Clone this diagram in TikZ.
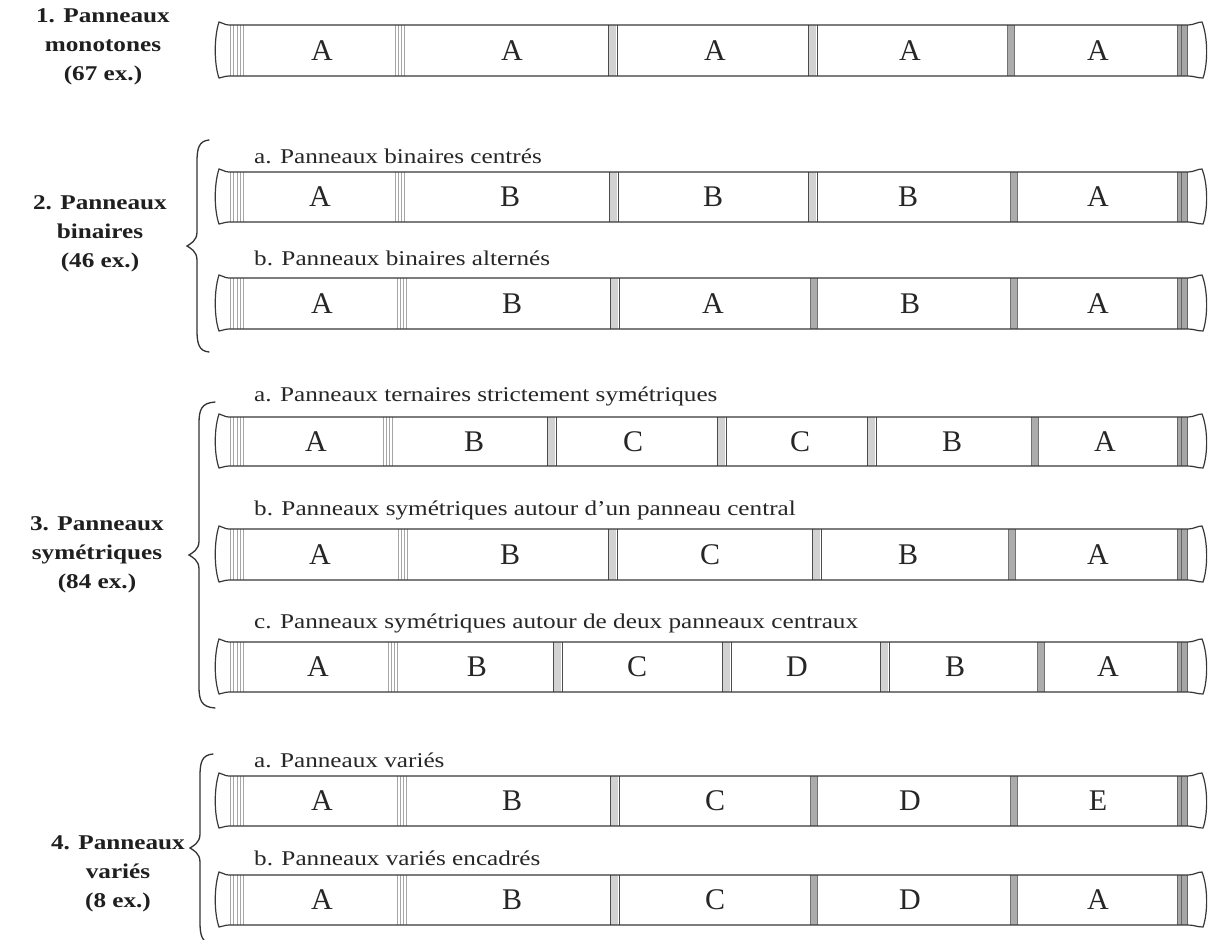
\documentclass[tikz,border=0pt]{standalone}
\usepackage{fontspec}
\setmainfont{Liberation Serif}
\newfontfamily\widefont[FakeStretch=1.2]{Liberation Serif}
\tikzset{
  tubefill/.style={fill=white},
  tubeline/.style={draw=black!78, line width=1.2pt},
  panel/.style={font=\fontsize{30}{30}\selectfont, text=black!85, inner sep=0pt},
  sublabel/.style={font=\widefont\fontsize{21}{24}\selectfont, text=black!85, anchor=west, inner sep=0pt},
  heading/.style={font=\widefont\bfseries\fontsize{21}{29}\selectfont, text=black!88, align=center, inner sep=0pt},
  bracel/.style={draw=black!80, line width=1.3pt, line cap=round},
  ring/.style={draw=gray!70, line width=0.8pt},
}
% outline path of a tube
\newcommand\tubepath[2]{(229,#1) -- (1188,#1) .. controls (1194,#1) and (1197,{#1-3}) .. (1202,{#1-3}) .. controls (1208,{#1+12}) and (1208,{#2-12}) .. (1203,{#2+2}) .. controls (1197,{#2+2}) and (1194,#2) .. (1188,#2) -- (229,#2) .. controls (224,#2) and (222,{#2+2}) .. (219,{#2+2}) .. controls (214,{#2-12}) and (214,{#1+12}) .. (219,{#1-3}) .. controls (222,{#1-3}) and (224,#1) .. (229,#1) -- cycle}
% divider kinds
\newcommand\divm[3]{\foreach \k in {0,3,6,9}{\draw[ring] ({#1+\k},#2)--({#1+\k},#3);}}
\newcommand\divd[3]{\fill[gray!35] ({#1+1},#2) rectangle ({#1+8},#3);
  \draw[black!70, line width=0.8pt] (#1,#2)--(#1,#3) ({#1+9},#2)--({#1+9},#3);}
\newcommand\divg[3]{\fill[gray!65] (#1,#2) rectangle ({#1+7},#3);
  \draw[black!55, line width=0.5pt] (#1,#2)--(#1,#3) ({#1+7},#2)--({#1+7},#3);}
% a whole tube: name, top, bottom, dividers, labels
\newcommand\tubebar[5]{%
  \fill[tubefill] \tubepath{#2}{#3};
  \foreach \k in {230,233.5,237,240.5,243}{\draw[ring] (\k,#2)--(\k,#3);}
  \fill[gray!70] (1177,#2) rectangle (1187,#3);
  \draw[black!60, line width=0.5pt] (1177,#2)--(1177,#3) (1181,#2)--(1181,#3) (1187,#2)--(1187,#3);
  \foreach \x/\t in {#4}{\csname div\t\endcsname{\x}{#2}{#3}}
  \draw[tubeline] \tubepath{#2}{#3};
  \foreach \x/\l [count=\i] in {#5}{\node[panel] (#1-\i) at (\x,{(#2+#3)/2}) {\l};}
}
% brace: spine x, tip x, end x, top y, tip y, bottom y
\newcommand\bracepath[6]{(#3,#4) .. controls ({#1+2},{#4+1}) and (#1,{#4+8}) .. (#1,{#4+22}) -- (#1,{#5-14}) .. controls (#1,{#5-5}) and ({#2+3},{#5-2}) .. (#2,#5) .. controls ({#2+3},{#5+2}) and (#1,{#5+5}) .. (#1,{#5+14}) -- (#1,{#6-22}) .. controls (#1,{#6-8}) and ({#1+2},{#6-1}) .. (#3,#6)}
\begin{document}
\begin{tikzpicture}[x=1pt,y=-1pt]
\useasboundingbox[fill=white] (0,0) rectangle (1208,940);

% headings
\node[heading] (h1) at (103,47) {1. Panneaux\\monotones\\(67 ex.)};
\node[heading] (h2) at (100,234) {2. Panneaux\\binaires\\(46 ex.)};
\node[heading] (h3) at (97,555) {3. Panneaux\\symétriques\\(84 ex.)};
\node[heading] (h4) at (118,874) {4. Panneaux\\variés\\(8 ex.)};

% braces
\draw[bracel] \bracepath{197}{187}{209}{140}{246}{352};
\draw[bracel] \bracepath{199}{189}{215}{402}{555}{708};
\draw[bracel] \bracepath{200}{190}{213}{754}{848}{944};

% sub labels
\node[sublabel] (s2a) at (254,156) {a. Panneaux binaires centrés};
\node[sublabel] (s2b) at (254,258) {b. Panneaux binaires alternés};
\node[sublabel] (s3a) at (254,396) {a. Panneaux ternaires strictement symétriques};
\node[sublabel] (s3b) at (254,510) {b. Panneaux symétriques autour d’un panneau central};
\node[sublabel] (s3c) at (254,623) {c. Panneaux symétriques autour de deux panneaux centraux};
\node[sublabel] (s4a) at (254,760) {a. Panneaux variés};
\node[sublabel] (s4b) at (254,858) {b. Panneaux variés encadrés};

% tubes
\tubebar{t1}{25}{76}{395/m,608/d,808/d,1007/g}{322/A,512/A,715/A,910/A,1098/A}
\tubebar{t2a}{172}{222}{395/m,609/d,808/d,1010/g}{320/A,510/B,713/B,908/B,1098/A}
\tubebar{t2b}{278}{329}{397/m,610/d,810/g,1010/g}{322/A,512/B,713/A,910/B,1098/A}
\tubebar{t3a}{417}{466}{383/m,547/d,717/d,867/d,1031/g}{316/A,474/B,633/C,800/C,952/B,1105/A}
\tubebar{t3b}{529}{580}{398/m,608/d,812/d,1008/g}{320/A,510/B,710/C,908/B,1098/A}
\tubebar{t3c}{642}{692}{388/m,553/d,722/d,880/d,1037/g}{318/A,477/B,637/C,797/D,955/B,1108/A}
\tubebar{t4a}{776}{826}{397/m,610/d,810/g,1010/g}{322/A,512/B,715/C,910/D,1098/E}
\tubebar{t4b}{875}{925}{397/m,610/d,810/g,1010/g}{322/A,512/B,715/C,910/D,1098/A}
\end{tikzpicture}
\end{document}
